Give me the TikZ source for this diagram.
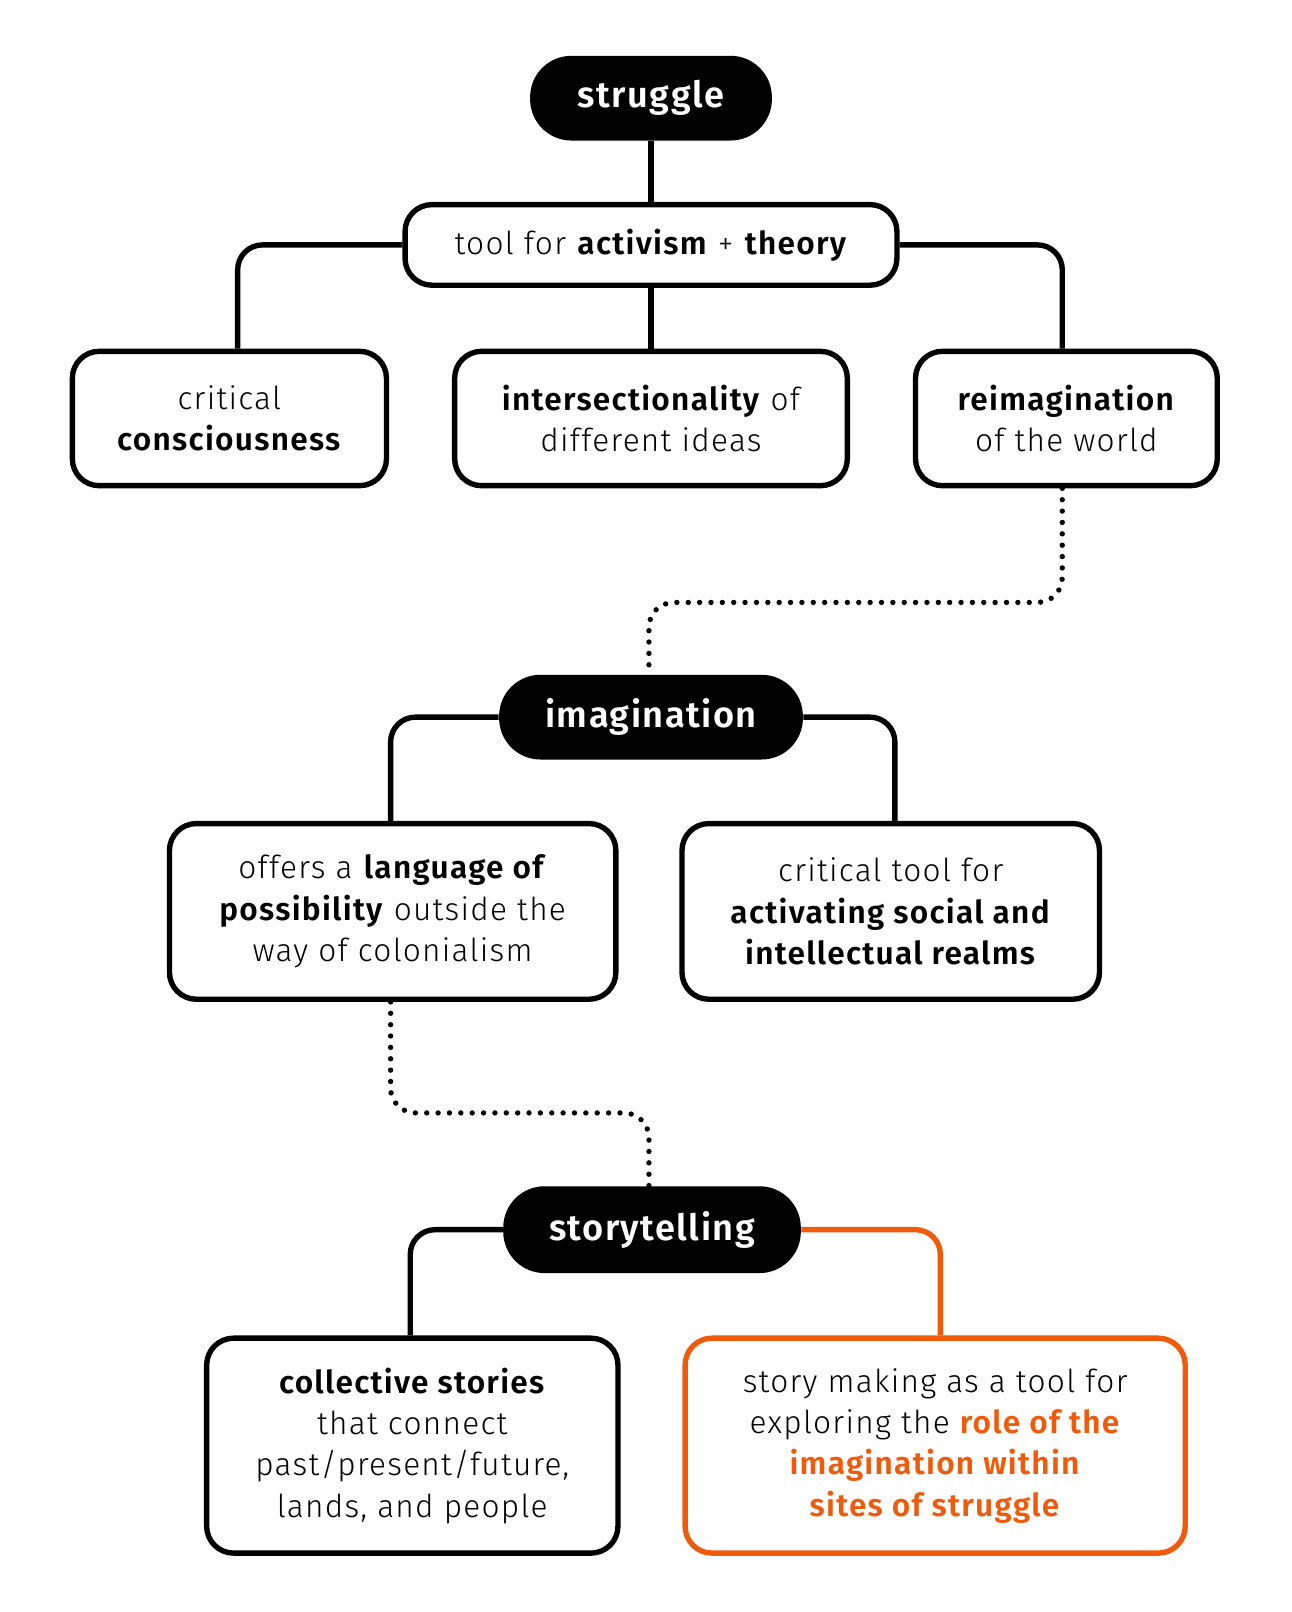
\documentclass[tikz,border=0pt]{standalone}
\usepackage{fontspec}
\setmainfont{Fira Sans}[UprightFont=* Light,BoldFont=* SemiBold,LetterSpace=4]
\definecolor{org}{HTML}{F05A0A}
\begin{document}
\begin{tikzpicture}[x=0.5pt,y=-0.5pt,
 pill/.style={rounded corners=20pt,fill=black,text=white,font=\fontsize{17.5}{20}\selectfont\bfseries,inner sep=0pt},
 box/.style={draw,line width=2.6pt,rounded corners=13pt,align=center,inner sep=0pt,font=\fontsize{15.3}{20}\selectfont},
 ln/.style={line width=2.6pt,rounded corners=12pt},
 dt/.style={line width=2.6pt,dash pattern=on 0pt off 5.5pt,line cap=round,rounded corners=12pt}]
\useasboundingbox (0,0) rectangle (1250,1560);
\node[pill,minimum width=117pt,minimum height=41pt] (s) at (630,95) {struggle};
\node[box,minimum width=238pt,minimum height=39pt] (t) at (630,237) {tool for \textbf{activism} + \textbf{theory}};
\node[box,minimum width=152pt,minimum height=65pt] (c) at (222,405) {critical\\\textbf{consciousness}};
\node[box,minimum width=190pt,minimum height=65pt] (i) at (630,405) {\textbf{intersectionality} of\\different ideas};
\node[box,minimum width=146pt,minimum height=65pt] (r) at (1032,405) {\textbf{reimagination}\\of the world};
\draw[ln] (s) -- (t);
\draw[ln] (t.west) -| (c.north -| 230,0);
\draw[ln] (t.east) -| (r.north -| 1028,0);
\draw[ln] (t) -- (i);
\node[pill,minimum width=147pt,minimum height=41pt] (im) at (630,694) {imagination};
\draw[dt] (r.south -| 1028,0) |- (628,583) -- (im.north -| 628,0);
\node[box,minimum width=216pt,minimum height=85pt] (o) at (380,882) {offers a \textbf{language of}\\\textbf{possibility} outside the\\way of colonialism};
\node[box,minimum width=202pt,minimum height=85pt] (ct) at (862,882) {critical tool for\\\textbf{activating social and}\\\textbf{intellectual realms}};
\draw[ln] (im.west) -| (o.north -| 378,0);
\draw[ln] (im.east) -| (ct.north -| 866,0);
\node[pill,minimum width=144pt,minimum height=42pt] (st) at (631,1190) {storytelling};
\draw[dt] (o.south -| 378,0) |- (628,1077) -- (st.north -| 628,0);
\node[box,minimum width=199pt,minimum height=104pt] (cs) at (399,1399) {\textbf{collective stories}\\that connect\\past/present/future,\\lands, and people};
\node[box,draw=org,minimum width=242pt,minimum height=104pt] (sm) at (905,1399) {story making as a tool for\\exploring the \textcolor{org}{\textbf{role of the}}\\\textcolor{org}{\textbf{imagination within}}\\\textcolor{org}{\textbf{sites of struggle}}};
\draw[ln] (st.west) -| (cs.north -| 397,0);
\draw[ln,org] (st.east) -| (sm.north -| 910,0);
\end{tikzpicture}
\end{document}
